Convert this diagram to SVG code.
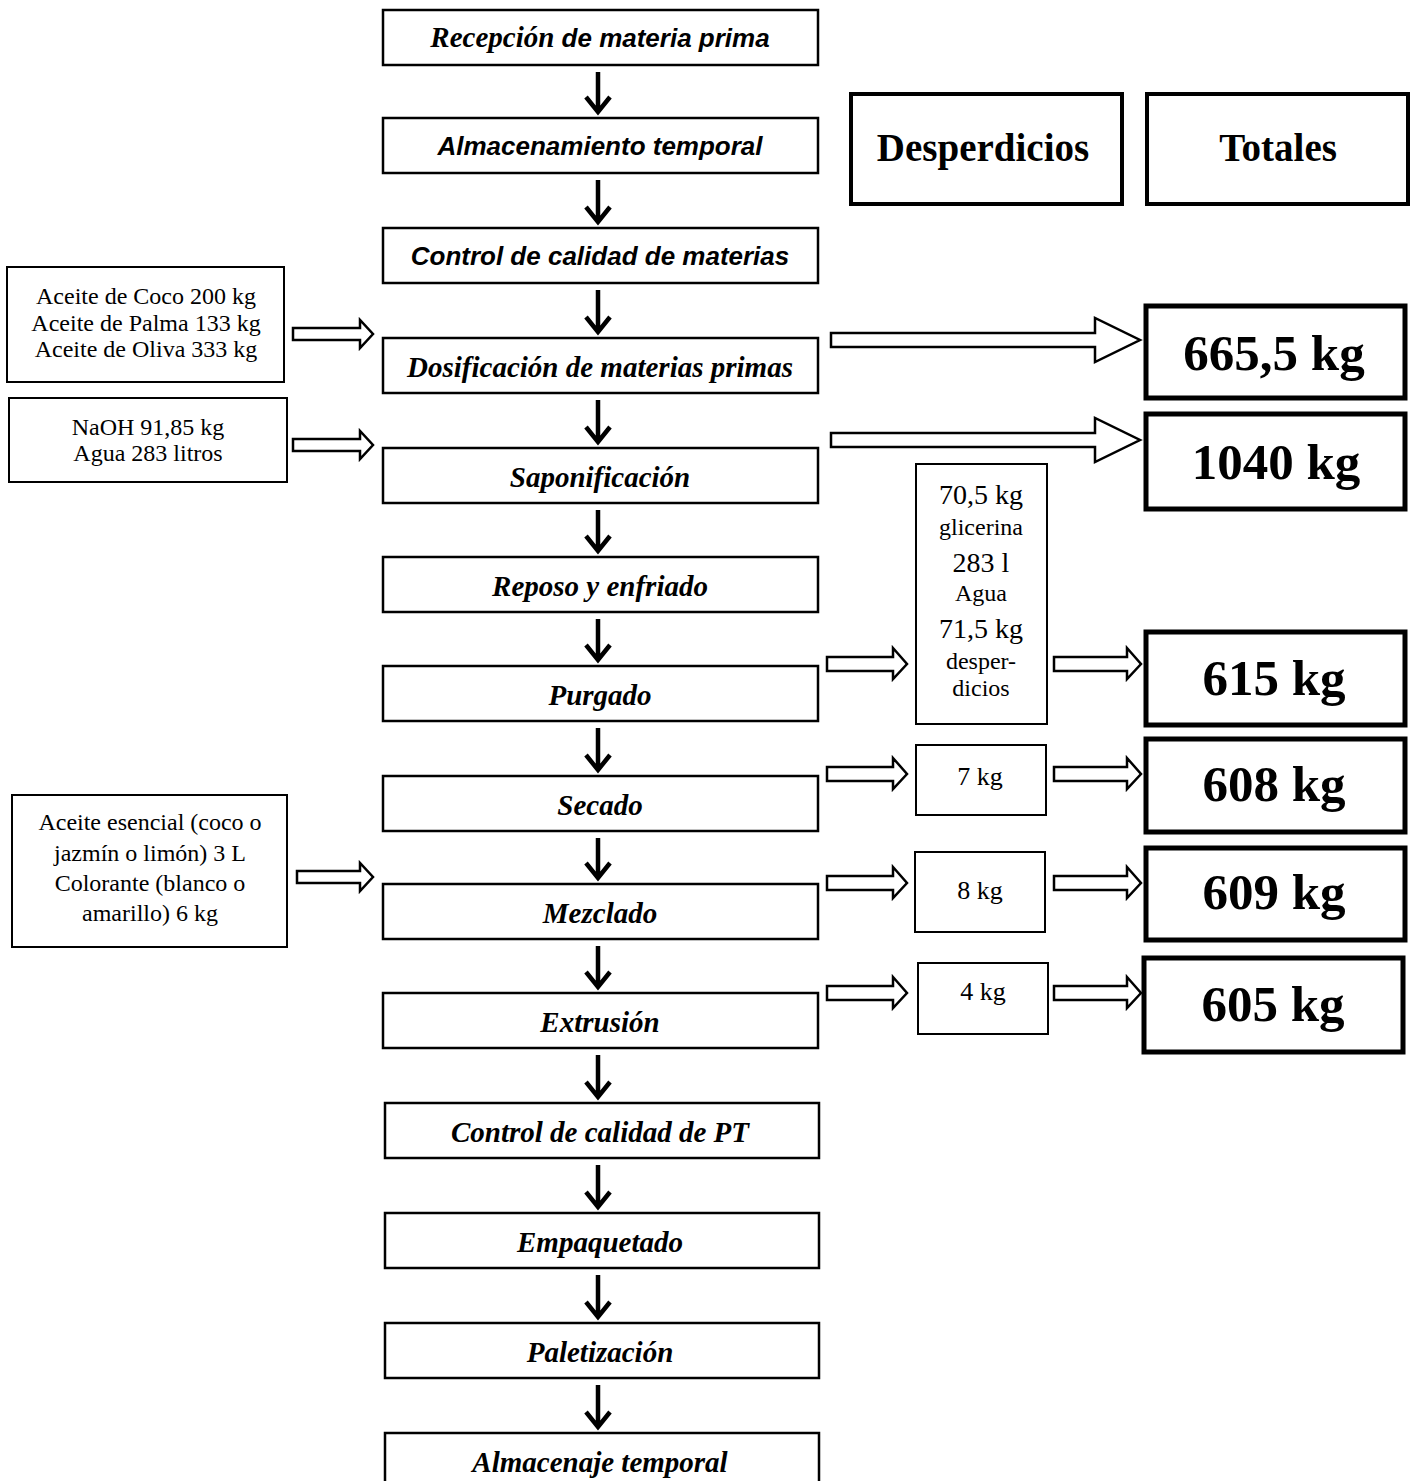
<svg xmlns="http://www.w3.org/2000/svg" width="1413" height="1481" viewBox="0 0 1413 1481">
<style>
.bg{fill:#fff}
.main{fill:#fff;stroke:#000;stroke-width:2.5}
.inp{fill:#fff;stroke:#000;stroke-width:2}
.hdr{fill:#fff;stroke:#000;stroke-width:4}
.tot{fill:#fff;stroke:#000;stroke-width:5}
.sm{fill:#fff;stroke:#000;stroke-width:2}
.sans{font-family:"Liberation Sans",Arial,sans-serif;font-weight:bold;font-style:italic;font-size:26px;text-anchor:middle}
.ser{font-family:"Liberation Serif","Times New Roman",serif;font-weight:bold;font-style:italic;font-size:29px;text-anchor:middle}
.plain{font-family:"Liberation Serif","Times New Roman",serif;font-size:24px;text-anchor:middle}
.big{font-family:"Liberation Serif","Times New Roman",serif;font-weight:bold;font-size:51px;text-anchor:middle}
.head{font-family:"Liberation Serif","Times New Roman",serif;font-weight:bold;font-size:39px;text-anchor:middle}
.down{fill:none;stroke:#000;stroke-width:4.5}
.hollow{fill:#fff;stroke:#000;stroke-width:2.5;stroke-linejoin:miter}
</style>
<rect class="bg" x="0" y="0" width="1413" height="1481"/>

<g id="connectors">
<path class="down" d="M598,72V112M586,97L598,112L610,97"/>
<path class="down" d="M598,180V222M586,207L598,222L610,207"/>
<path class="down" d="M598,290V332M586,317L598,332L610,317"/>
<path class="down" d="M598,400V442M586,427L598,442L610,427"/>
<path class="down" d="M598,510V551M586,536L598,551L610,536"/>
<path class="down" d="M598,619V660M586,645L598,660L610,645"/>
<path class="down" d="M598,728V770M586,755L598,770L610,755"/>
<path class="down" d="M598,838V878M586,863L598,878L610,863"/>
<path class="down" d="M598,946V987M586,972L598,987L610,972"/>
<path class="down" d="M598,1055V1097M586,1082L598,1097L610,1082"/>
<path class="down" d="M598,1165V1207M586,1192L598,1207L610,1192"/>
<path class="down" d="M598,1275V1317M586,1302L598,1317L610,1302"/>
<path class="down" d="M598,1385V1427M586,1412L598,1427L610,1412"/>

<path class="hollow" d="M293,328H360V320L373,334L360,348V340H293Z"/>
<path class="hollow" d="M293,439H360V431L373,445L360,459V451H293Z"/>
<path class="hollow" d="M297,871H360V863L373,877L360,891V883H297Z"/>

<path class="hollow" d="M831,333H1095V318L1140,340L1095,362V347H831Z"/>
<path class="hollow" d="M831,433H1095V418L1140,440L1095,462V447H831Z"/>

<path class="hollow" d="M827,657H893V648L907,664L893,679V671H827Z"/>
<path class="hollow" d="M827,767H893V758L907,774L893,789V781H827Z"/>
<path class="hollow" d="M827,876H893V867L907,883L893,898V890H827Z"/>
<path class="hollow" d="M827,986H893V977L907,993L893,1008V1000H827Z"/>

<path class="hollow" d="M1054,657H1127V648L1141,664L1127,679V671H1054Z"/>
<path class="hollow" d="M1054,767H1127V758L1141,774L1127,789V781H1054Z"/>
<path class="hollow" d="M1054,876H1127V867L1141,883L1127,898V890H1054Z"/>
<path class="hollow" d="M1054,986H1127V977L1141,993L1127,1008V1000H1054Z"/>
</g>

<g id="n1"><rect class="main" x="383" y="10" width="435" height="55"/>
<text x="600" y="47" class="sans"><tspan style="font-family:'Liberation Serif',serif;font-size:29px">Recepción</tspan> de materia prima</text></g>
<g id="n2"><rect class="main" x="383" y="118" width="435" height="55"/><text x="600" y="155" class="sans">Almacenamiento temporal</text></g>
<g id="n3"><rect class="main" x="383" y="228" width="435" height="55"/><text x="600" y="265" class="sans">Control de calidad de materias</text></g>
<g id="n4"><rect class="main" x="383" y="338" width="435" height="55"/><text x="600" y="377" class="ser">Dosificación de materias primas</text></g>
<g id="n5"><rect class="main" x="383" y="448" width="435" height="55"/><text x="600" y="487" class="ser">Saponificación</text></g>
<g id="n6"><rect class="main" x="383" y="557" width="435" height="55"/><text x="600" y="596" class="ser">Reposo y enfriado</text></g>
<g id="n7"><rect class="main" x="383" y="666" width="435" height="55"/><text x="600" y="705" class="ser">Purgado</text></g>
<g id="n8"><rect class="main" x="383" y="776" width="435" height="55"/><text x="600" y="815" class="ser">Secado</text></g>
<g id="n9"><rect class="main" x="383" y="884" width="435" height="55"/><text x="600" y="923" class="ser">Mezclado</text></g>
<g id="n10"><rect class="main" x="383" y="993" width="435" height="55"/><text x="600" y="1032" class="ser">Extrusión</text></g>
<g id="n11"><rect class="main" x="385" y="1103" width="434" height="55"/><text x="600" y="1142" class="ser">Control de calidad de PT</text></g>
<g id="n12"><rect class="main" x="385" y="1213" width="434" height="55"/><text x="600" y="1252" class="ser">Empaquetado</text></g>
<g id="n13"><rect class="main" x="385" y="1323" width="434" height="55"/><text x="600" y="1362" class="ser">Paletización</text></g>
<g id="n14"><rect class="main" x="385" y="1433" width="434" height="60"/><text x="600" y="1472" class="ser">Almacenaje temporal</text></g>

<g id="in1"><rect class="inp" x="7" y="267" width="277" height="115"/>
<text class="plain" x="146" y="304">Aceite de Coco 200 kg</text>
<text class="plain" x="146" y="331">Aceite de Palma 133 kg</text>
<text class="plain" x="146" y="357">Aceite de Oliva 333 kg</text></g>
<g id="in2"><rect class="inp" x="9" y="398" width="278" height="84"/>
<text class="plain" x="148" y="435">NaOH 91,85 kg</text>
<text class="plain" x="148" y="461">Agua 283 litros</text></g>
<g id="in3"><rect class="inp" x="12" y="795" width="275" height="152"/>
<text class="plain" x="150" y="830">Aceite esencial (coco o</text>
<text class="plain" x="150" y="861">jazmín o limón) 3 L</text>
<text class="plain" x="150" y="891">Colorante (blanco o</text>
<text class="plain" x="150" y="921">amarillo) 6 kg</text></g>

<g id="desperdicios"><rect class="hdr" x="851" y="94" width="271" height="110"/><text class="head" x="983" y="161">Desperdicios</text></g>
<g id="totales"><rect class="hdr" x="1147" y="94" width="261" height="110"/><text class="head" x="1278" y="161">Totales</text></g>

<g id="t1"><rect class="tot" x="1146" y="306" width="259" height="92"/><text class="big" x="1274" y="370">665,5 kg</text></g>
<g id="t2"><rect class="tot" x="1146" y="414" width="259" height="95"/><text class="big" x="1276" y="479">1040 kg</text></g>
<g id="t3"><rect class="tot" x="1146" y="632" width="259" height="93"/><text class="big" x="1274" y="695">615 kg</text></g>
<g id="t4"><rect class="tot" x="1146" y="739" width="259" height="93"/><text class="big" x="1274" y="801">608 kg</text></g>
<g id="t5"><rect class="tot" x="1146" y="848" width="259" height="92"/><text class="big" x="1274" y="909">609 kg</text></g>
<g id="t6"><rect class="tot" x="1144" y="958" width="259" height="94"/><text class="big" x="1273" y="1021">605 kg</text></g>

<g id="d1"><rect class="sm" x="916" y="464" width="131" height="260"/>
<text class="plain" x="981" y="504" style="font-size:28px">70,5 kg</text>
<text class="plain" x="981" y="535">glicerina</text>
<text class="plain" x="981" y="572" style="font-size:28px">283 l</text>
<text class="plain" x="981" y="601">Agua</text>
<text class="plain" x="981" y="638" style="font-size:28px">71,5 kg</text>
<text class="plain" x="981" y="669">desper-</text>
<text class="plain" x="981" y="696">dicios</text></g>
<g id="d2"><rect class="sm" x="916" y="745" width="130" height="70"/><text class="plain" x="980" y="785" style="font-size:26px">7 kg</text></g>
<g id="d3"><rect class="sm" x="915" y="852" width="130" height="80"/><text class="plain" x="980" y="899" style="font-size:26px">8 kg</text></g>
<g id="d4"><rect class="sm" x="918" y="963" width="130" height="71"/><text class="plain" x="983" y="1000" style="font-size:26px">4 kg</text></g>
</svg>
